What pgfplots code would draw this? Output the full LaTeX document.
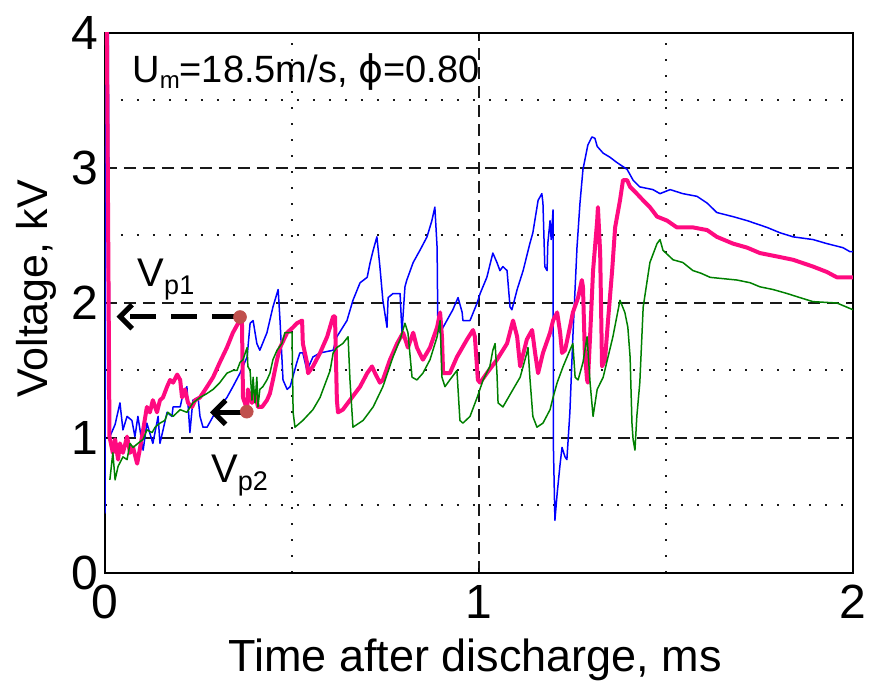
\documentclass[border=0pt]{standalone}
\usepackage{pgfplots}
\pgfplotsset{compat=1.18}
\usepackage{fontspec}
\setmainfont{Liberation Sans}
\newfontfamily\dejavu{DejaVu Sans}
\usetikzlibrary{arrows.meta}
\definecolor{mblue}{RGB}{0,0,255}
\definecolor{mpink}{RGB}{255,10,128}
\definecolor{mgreen}{RGB}{0,128,0}
\definecolor{dotred}{RGB}{192,80,77}
\begin{document}
\begin{tikzpicture}
\useasboundingbox (-52.5pt,-58pt) rectangle (382pt,286.5pt);
\begin{axis}[
  at={(0pt,0pt)}, anchor=south west,
  scale only axis, width=374pt, height=270pt,
  xmin=0, xmax=2, ymin=0, ymax=4,
  xtick={0,1,2}, ytick={0,1,2,3,4},
  minor tick num=1,
  grid=both,
  major grid style={black!90, line width=0.75pt, dash pattern=on 6pt off 3.5pt},
  minor grid style={black!90, line width=1pt, dash pattern=on 1pt off 7pt},
  axis line style={black, line width=0.6pt},
  tick style={black, line width=0.5pt},
  major tick length=2.5pt, minor tick length=0pt,
  tick align=inside,
  /pgf/number format/assume math mode=true,
  ticklabel style={font=\fontsize{24pt}{24pt}\selectfont, inner sep=0pt},
  xticklabel style={anchor=north, yshift=-6pt},
  yticklabel style={anchor=east, xshift=-3pt},
  xlabel={Time after discharge, ms},
  ylabel={Voltage, kV},
  xlabel style={at={(axis description cs:0.495,-0.1833)}, anchor=base, inner sep=0pt, font=\fontsize{22.5pt}{22.5pt}\selectfont},
  ylabel style={at={(axis description cs:-0.0762,0.526)}, anchor=base, inner sep=0pt, font=\fontsize{21.5pt}{21.5pt}\selectfont},
  clip=true,
]
% blue series
\addplot[mblue, line width=0.75pt, line join=round] coordinates {
(0,0.44)(0.003,4.5)(0.008,4.5)(0.013,1.01)(0.027,1.10)(0.040,1.26)(0.048,1.06)(0.059,1.16)(0.072,1.13)(0.080,1.01)
(0.088,1.16)(0.102,0.91)(0.112,1.11)(0.128,0.96)(0.142,1.16)(0.147,0.96)(0.166,1.19)(0.179,1.16)(0.182,1.23)(0.201,1.23)
(0.209,1.33)(0.219,1.38)(0.227,1.04)(0.235,1.28)(0.249,1.30)(0.254,1.16)(0.262,1.08)(0.273,1.08)(0.289,1.16)(0.307,1.23)
(0.326,1.30)(0.342,1.38)(0.361,1.48)(0.380,1.60)(0.388,1.85)(0.396,1.87)(0.406,1.70)(0.414,1.65)(0.433,1.78)(0.449,1.97)
(0.463,2.10)(0.468,1.87)(0.476,1.43)(0.487,1.36)(0.495,1.38)(0.513,1.56)(0.521,1.63)(0.529,1.63)(0.540,1.50)(0.556,1.60)
(0.575,1.63)(0.610,1.65)(0.620,1.75)(0.647,1.87)(0.663,2.02)(0.682,2.15)(0.701,2.19)(0.709,2.30)(0.717,2.39)(0.727,2.49)
(0.735,2.27)(0.743,2.02)(0.754,1.82)(0.757,2.04)(0.770,2.07)(0.789,2.07)(0.794,1.78)(0.802,2.12)(0.807,2.17)(0.824,2.30)
(0.842,2.39)(0.861,2.49)(0.874,2.61)(0.882,2.71)(0.888,2.41)(0.890,1.82)(0.896,1.78)(0.914,1.87)(0.930,1.95)(0.944,2.04)
(0.955,1.93)(0.957,1.87)(0.976,1.87)(0.995,2.00)(1.003,2.07)(1.021,2.19)(1.037,2.37)(1.048,2.30)(1.056,2.24)(1.064,2.27)
(1.075,2.24)(1.083,1.97)(1.088,1.95)(1.102,2.10)(1.118,2.24)(1.136,2.44)(1.144,2.52)(1.158,2.76)(1.168,2.81)(1.171,2.74)
(1.176,2.27)(1.182,2.24)(1.184,2.44)(1.190,2.61)(1.193,2.47)(1.198,2.69)(1.199,0.93)(1.203,0.39)(1.209,0.59)(1.217,0.81)
(1.222,0.93)(1.230,0.86)(1.235,0.84)(1.243,1.19)(1.251,1.75)(1.262,2.41)(1.270,2.74)(1.278,2.99)(1.291,3.17)(1.302,3.23)
(1.310,3.22)(1.316,3.16)(1.332,3.11)(1.350,3.08)(1.369,3.04)(1.396,2.99)(1.412,2.91)(1.430,2.86)(1.465,2.84)(1.484,2.81)
(1.511,2.84)(1.545,2.81)(1.583,2.79)(1.610,2.74)(1.636,2.67)(1.679,2.64)(1.717,2.61)(1.770,2.56)(1.805,2.52)(1.840,2.49)
(1.893,2.47)(1.930,2.44)(1.973,2.41)(1.992,2.38)(2.000,2.38)
};
% magenta series
\addplot[mpink, line width=2pt, line join=round] coordinates {
(0.004,4.5)(0.012,1.01)(0.021,0.89)(0.027,0.99)(0.035,0.84)(0.040,0.96)(0.048,0.89)(0.059,1.01)(0.067,0.89)(0.075,0.93)
(0.086,0.81)(0.094,0.93)(0.102,1.06)(0.112,1.23)(0.120,1.19)(0.128,1.28)(0.139,1.19)(0.147,1.28)(0.155,1.30)(0.166,1.38)
(0.174,1.43)(0.182,1.41)(0.193,1.47)(0.201,1.43)(0.206,1.30)(0.214,1.36)(0.222,1.26)(0.233,1.23)(0.241,1.28)(0.254,1.30)
(0.273,1.38)(0.289,1.45)(0.307,1.56)(0.326,1.67)(0.342,1.78)(0.356,1.85)(0.366,1.90)(0.369,1.30)(0.380,1.21)(0.382,1.36)
(0.393,1.26)(0.401,1.33)(0.409,1.23)(0.420,1.23)(0.433,1.28)(0.441,1.33)(0.449,1.43)(0.460,1.58)(0.468,1.67)(0.487,1.78)
(0.503,1.82)(0.513,1.85)(0.527,1.87)(0.529,1.70)(0.540,1.56)(0.543,1.48)(0.556,1.53)(0.575,1.63)(0.594,1.75)(0.610,1.90)
(0.615,1.90)(0.620,1.28)(0.623,1.19)(0.636,1.21)(0.655,1.28)(0.682,1.38)(0.701,1.48)(0.714,1.53)(0.722,1.48)(0.735,1.41)
(0.743,1.43)(0.762,1.58)(0.781,1.70)(0.797,1.78)(0.810,1.67)(0.824,1.78)(0.834,1.67)(0.850,1.58)(0.869,1.67)(0.888,1.82)
(0.896,1.93)(0.901,1.75)(0.904,1.48)(0.922,1.48)(0.941,1.60)(0.968,1.73)(0.984,1.80)(0.989,1.75)(0.997,1.43)(1.003,1.41)
(1.021,1.48)(1.048,1.58)(1.075,1.70)(1.091,1.87)(1.102,1.75)(1.110,1.53)(1.128,1.73)(1.142,1.80)(1.150,1.63)(1.158,1.48)
(1.171,1.63)(1.190,1.78)(1.198,1.87)(1.209,1.93)(1.217,1.78)(1.222,1.63)(1.230,1.65)(1.243,1.82)(1.251,1.93)(1.265,2.04)
(1.275,2.17)(1.278,2.12)(1.283,1.63)(1.289,1.43)(1.291,1.41)(1.297,1.75)(1.305,2.24)(1.316,2.61)(1.318,2.71)(1.324,2.37)
(1.329,1.53)(1.337,1.58)(1.345,1.87)(1.356,2.24)(1.364,2.56)(1.377,2.76)(1.385,2.91)(1.396,2.91)(1.404,2.86)(1.422,2.81)
(1.439,2.76)(1.457,2.71)(1.476,2.64)(1.503,2.61)(1.529,2.56)(1.572,2.56)(1.610,2.54)(1.636,2.49)(1.679,2.44)(1.717,2.41)
(1.751,2.37)(1.805,2.34)(1.840,2.32)(1.893,2.27)(1.930,2.23)(1.957,2.19)(2.000,2.19)
};
% green series
\addplot[mgreen, line width=0.75pt, line join=round] coordinates {
(0.013,0.69)(0.021,0.89)(0.027,0.69)(0.035,0.79)(0.048,0.86)(0.059,0.84)(0.067,0.96)(0.075,0.93)(0.088,0.96)(0.102,0.99)
(0.112,1.06)(0.126,1.04)(0.134,1.08)(0.147,1.11)(0.160,1.13)(0.168,1.19)(0.182,1.16)(0.201,1.21)(0.219,1.19)(0.235,1.26)
(0.254,1.30)(0.273,1.33)(0.289,1.36)(0.307,1.41)(0.326,1.48)(0.342,1.50)(0.353,1.50)(0.361,1.56)(0.369,1.58)(0.380,1.67)
(0.382,1.53)(0.388,1.50)(0.393,1.28)(0.396,1.45)(0.401,1.26)(0.406,1.45)(0.409,1.23)(0.414,1.36)(0.422,1.38)(0.433,1.43)
(0.441,1.48)(0.449,1.58)(0.460,1.65)(0.473,1.70)(0.481,1.78)(0.500,1.78)(0.503,1.19)(0.508,1.08)(0.529,1.13)(0.556,1.21)
(0.575,1.30)(0.602,1.50)(0.610,1.63)(0.620,1.67)(0.636,1.70)(0.650,1.75)(0.655,1.43)(0.663,1.08)(0.690,1.13)(0.717,1.23)
(0.743,1.38)(0.770,1.60)(0.789,1.73)(0.802,1.85)(0.810,1.78)(0.821,1.45)(0.834,1.43)(0.850,1.48)(0.869,1.58)(0.888,1.75)
(0.896,1.87)(0.901,1.45)(0.909,1.38)(0.922,1.43)(0.941,1.50)(0.949,1.13)(0.957,1.11)(0.976,1.16)(0.995,1.30)(1.011,1.43)
(1.029,1.53)(1.037,1.65)(1.043,1.70)(1.048,1.48)(1.051,1.26)(1.064,1.23)(1.091,1.36)(1.110,1.45)(1.128,1.63)(1.131,1.67)
(1.136,1.45)(1.144,1.16)(1.155,1.08)(1.171,1.11)(1.190,1.21)(1.198,1.30)(1.209,1.41)(1.225,1.53)(1.243,1.65)(1.251,1.70)
(1.257,1.45)(1.265,1.43)(1.278,1.56)(1.289,1.75)(1.297,1.41)(1.305,1.16)(1.316,1.36)(1.332,1.45)(1.358,1.75)(1.377,2.02)
(1.390,1.93)(1.398,1.82)(1.404,1.60)(1.409,1.11)(1.412,0.99)(1.417,0.91)(1.422,1.16)(1.430,1.41)(1.439,1.97)(1.457,2.30)
(1.476,2.44)(1.484,2.47)(1.492,2.39)(1.519,2.32)(1.545,2.30)(1.572,2.24)(1.594,2.22)(1.618,2.19)(1.690,2.17)(1.725,2.15)
(1.751,2.12)(1.786,2.10)(1.824,2.07)(1.858,2.04)(1.893,2.01)(1.957,2.00)(2.000,1.95)
};
% annotation arrows
\draw[black, line width=2.5pt, dash pattern=on 13pt off 7.5pt, -{Straight Barb[length=6pt,width=12pt]}]
  (axis cs:0.355,1.899) -- (axis cs:0.031,1.899);
\draw[black, line width=2.5pt, -{Straight Barb[length=6pt,width=12pt]}]
  (axis cs:0.365,1.19) -- (axis cs:0.281,1.19);
% marker dots
\addplot[only marks, mark=*, mark size=3.2pt, dotred, mark options={draw=dotred, fill=dotred}] coordinates {(0.361,1.896)(0.379,1.195)};
% texts
\node[anchor=base west, inner sep=0pt, font=\fontsize{19pt}{19pt}\selectfont] at (axis cs:0.072,3.637)
  {U\raisebox{-3pt}{\fontsize{12pt}{12pt}\selectfont m}=18.5m/s, {\dejavu ϕ}=0.80};
\node[anchor=base west, inner sep=0pt, font=\fontsize{20pt}{20pt}\selectfont] at (axis cs:0.086,2.119)
  {V\raisebox{-4pt}{\fontsize{13.5pt}{13.5pt}\selectfont p1}};
\node[anchor=base west, inner sep=0pt, font=\fontsize{20pt}{20pt}\selectfont] at (axis cs:0.283,0.667)
  {V\raisebox{-4pt}{\fontsize{13.5pt}{13.5pt}\selectfont p2}};
\end{axis}
\end{tikzpicture}
\end{document}
